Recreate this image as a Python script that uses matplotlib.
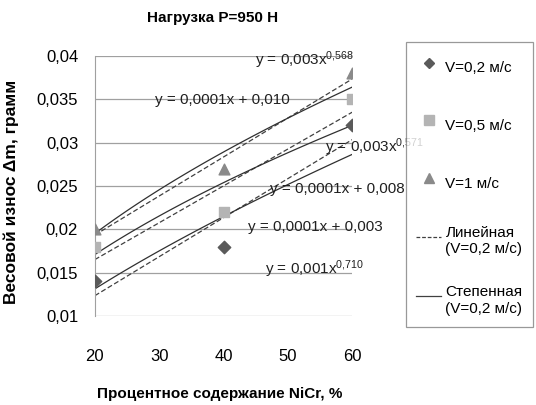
import matplotlib
matplotlib.use("Agg")
import matplotlib.pyplot as plt
from matplotlib.lines import Line2D
import numpy as np

plt.rcParams['font.family'] = ['Liberation Sans', 'DejaVu Sans']
plt.rcParams['mathtext.fontset'] = 'custom'
plt.rcParams['mathtext.rm'] = 'Liberation Sans'
plt.rcParams['mathtext.it'] = 'Liberation Sans'

nicr = [20, 40, 60]
wear_02 = [0.014, 0.018, 0.032]
wear_05 = [0.018, 0.022, 0.035]
wear_1 = [0.020, 0.027, 0.038]
series_labels = ["V=0,2 м/с", "V=0,5 м/с", "V=1 м/с"]
y_ticks = [0.01, 0.015, 0.02, 0.025, 0.03, 0.035, 0.04]
y_tick_labels = ["0,01", "0,015", "0,02", "0,025", "0,03", "0,035", "0,04"]
x_ticks = [20, 30, 40, 50, 60]

# trendline equation labels as shown in the chart: (text, x, y)
eq_labels = [
    ("y = 0,003x$^{\\mathrm{0{,}568}}$", 44.9, 0.0395),
    ("y = 0,0001x + 0,010", 29.3, 0.0349),
    ("y = 0,003x$^{\\mathrm{0{,}571}}$", 55.8, 0.0295),
    ("y = 0,0001x + 0,008", 47.2, 0.02465),
    ("y = 0,0001x + 0,003", 43.8, 0.02023),
    ("y = 0,001x$^{\\mathrm{0{,}710}}$", 46.5, 0.01535),
]


def main():
    fig = plt.figure(figsize=(5.36, 4.05), dpi=100)
    ax = fig.add_axes([0.177, 0.22, 0.48, 0.642])

    x = np.array(nicr, dtype=float)
    xs = np.linspace(20, 60, 50)
    for ys in (wear_02, wear_05, wear_1):
        ys = np.array(ys)
        k, b = np.polyfit(x, ys, 1)
        ax.plot(xs, k * xs + b, color="#404040", lw=0.9, ls=(0, (4, 2)))
        p, c = np.polyfit(np.log(x), np.log(ys), 1)
        ax.plot(xs, np.exp(c) * xs ** p, color="#303030", lw=0.9)

    ax.scatter(nicr, wear_02, marker="D", s=40, color="#5a5a5a", zorder=3)
    ax.scatter(nicr, wear_05, marker="s", s=60, color="#b4b4b4", zorder=3)
    ax.scatter(nicr, wear_1, marker="^", s=60, color="#8a8a8a", zorder=3)

    for txt, tx, ty in eq_labels:
        ax.text(tx, ty, txt, fontsize=11, ha="left", va="center",
                color="#202020", clip_on=False)

    ax.set_xlim(20, 60)
    ax.set_ylim(0.01, 0.04)
    ax.set_xticks(x_ticks)
    ax.set_yticks(y_ticks)
    ax.set_yticklabels(y_tick_labels)
    ax.tick_params(axis="both", labelsize=12, length=0)
    ax.tick_params(axis="x", pad=24)
    ax.tick_params(axis="y", pad=12)
    ax.grid(axis="y", color="#a0a0a0", lw=0.9)
    ax.set_axisbelow(True)
    for side in ("top", "right", "bottom"):
        ax.spines[side].set_visible(False)
    ax.spines["left"].set_color("#a0a0a0")

    fig.text(0.397, 0.955, "Нагрузка P=950 H", fontsize=11,
             fontweight="bold", ha="center", va="center")
    ax.set_xlabel("Процентное содержание NiCr, %", fontsize=11,
                  fontweight="bold")
    ax.xaxis.set_label_coords(0.486, -0.272)
    ax.set_ylabel("Весовой износ Δm, грамм", fontsize=12.5,
                  fontweight="bold")
    ax.yaxis.set_label_coords(-0.295, 0.477)

    handles = [
        Line2D([], [], ls="none", marker="D", ms=5, color="#5a5a5a"),
        Line2D([], [], ls="none", marker="s", ms=7, color="#b4b4b4"),
        Line2D([], [], ls="none", marker="^", ms=7, color="#8a8a8a"),
        Line2D([], [], color="#404040", lw=0.9, ls=(0, (3, 1.5))),
        Line2D([], [], color="#404040", lw=0.9),
    ]
    labels = series_labels + ["Линейная\n(V=0,2 м/с)", "Степенная\n(V=0,2 м/с)"]
    leg = fig.legend(handles, labels, loc="upper left",
                     bbox_to_anchor=(0.757, 0.896), fontsize=11,
                     handlelength=1.6, handleheight=2.6, labelspacing=1.85,
                     handletextpad=0.3, borderpad=0.7, borderaxespad=0,
                     fancybox=False)
    leg.get_frame().set_edgecolor("#808080")
    leg.get_frame().set_linewidth(0.9)

    fig.savefig("out.png", dpi=100)


if __name__ == "__main__":
    main()
